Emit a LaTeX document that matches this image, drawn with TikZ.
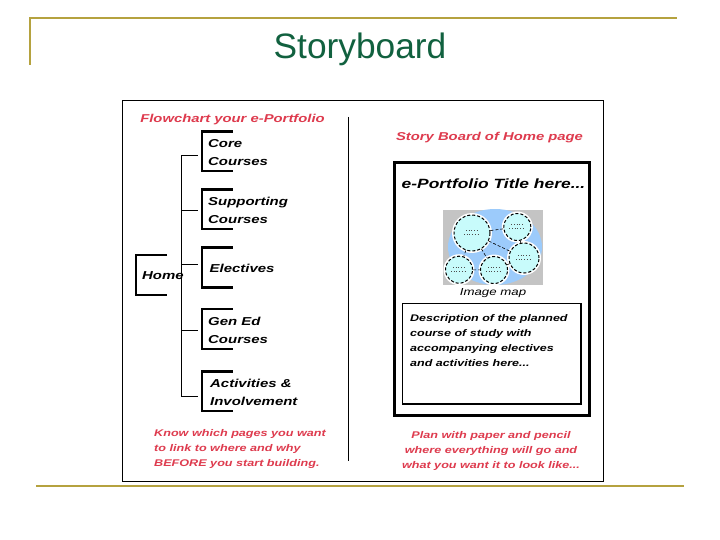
\documentclass[tikz,border=0pt]{standalone}
\usepackage{fontspec}
\setmainfont{Liberation Sans}
\newfontfamily\widefont[FakeStretch=1.3]{Liberation Sans}
\definecolor{gold}{HTML}{B5A23F}
\definecolor{titlegreen}{HTML}{11613F}
\definecolor{notered}{HTML}{DE3B4E}
\definecolor{mapgray}{HTML}{C4C4C4}
\definecolor{mapblue}{HTML}{9CCBFB}
\definecolor{mapcyan}{HTML}{C8FBFB}
\tikzset{
  rule/.style={draw=gold,line width=2pt},
  brk/.style={draw=none,minimum width=30.5pt,minimum height=39.5pt,inner sep=0pt},
  brkline/.style={line width=2.4pt,line join=miter},
  conn/.style={line width=0.8pt},
  boxtext/.style={anchor=west,inner sep=0pt,align=left,font=\widefont\bfseries\itshape\fontsize{11.5}{18.2}\selectfont},
  rednote/.style={inner sep=0pt,text=notered,font=\widefont\bfseries\itshape\fontsize{9.7}{15}\selectfont},
  redhead/.style={inner sep=0pt,text=notered,font=\widefont\bfseries\itshape\fontsize{11.4}{13}\selectfont},
  mapcircle/.style={circle,draw=black,densely dashed,line width=1pt,fill=mapcyan,inner sep=0pt},
  maphalo/.style={circle,fill=white,inner sep=0pt},
  maplink/.style={draw=black,densely dashed,line width=0.6pt},
  mapmark/.style={draw=black!70,dotted,line width=0.7pt}
}
\newcommand{\bracketof}[1]{\draw[brkline] (#1.north east) -| (#1.south west) -- (#1.south east);}
\begin{document}
\begin{tikzpicture}[x=1pt,y=-1pt]
\useasboundingbox (0,0) rectangle (720,540);
\fill[white] (0,0) rectangle (720,540);
% slide rules
\draw[rule] (30,65) -- (30,18) -- (677,18);
\draw[rule] (36,486) -- (684,486);
\node[text=titlegreen,inner sep=0pt,font=\fontsize{35.3}{40}\selectfont] (title) at (360,49.5) {Storyboard};
% sheet
\node[draw=black,line width=0.9pt,minimum width=481pt,minimum height=381pt,inner sep=0pt] (sheet) at (362.8,290.8) {};
\coordinate (divtop) at (348.3,117);
\coordinate (divbot) at (348.3,460.7);
\draw[conn] (divtop) -- (divbot);
% flowchart
\node[redhead] (flowhead) at (232.5,119.5) {Flowchart your e-Portfolio};
\node[brk] (core) at (217.5,151.3) {};
\node[brk] (supp) at (217.5,209.3) {};
\node[brk] (elec) at (217.5,267.5) {};
\node[brk] (home) at (151.7,275) {};
\node[brk] (gened) at (217.5,329) {};
\node[brk] (activ) at (217.5,391.3) {};
\bracketof{core}\bracketof{supp}\bracketof{elec}\bracketof{home}\bracketof{gened}\bracketof{activ}
\node[boxtext] (tcore) at (208,152.5) {Core\\Courses};
\node[boxtext] (tsupp) at (208,210) {Supporting\\Courses};
\node[boxtext] (telec) at (209.5,268) {Electives};
\node[boxtext] (thome) at (142,275.5) {Home};
\node[boxtext] (tgen) at (208,330) {Gen Ed\\Courses};
\node[boxtext] (tact) at (210,392.5) {Activities \&\\Involvement};
\coordinate (trunktop) at (181.7,155.7);
\coordinate (trunkbot) at (181.7,396);
\coordinate (bcore) at (197.7,155.7);
\coordinate (bsupp) at (197.7,210);
\coordinate (belec) at (197.7,264);
\coordinate (bgen) at (197.7,330);
\coordinate (bact) at (197.7,396);
\draw[conn] (bcore) -- (trunktop) -- (trunkbot) -- (bact);
\draw[conn] (bsupp) -- (bsupp -| trunktop);
\draw[conn] (belec) -- (belec -| trunktop);
\draw[conn] (bgen) -- (bgen -| trunktop);
\node[rednote,anchor=west,align=left] (leftnote) at (154,449) {Know which pages you want\\to link to where and why\\BEFORE you start building.};
% storyboard
\node[redhead] (storyhead) at (489.5,138) {Story Board of Home page};
\node[draw=black,line width=2.6pt,minimum width=194.5pt,minimum height=253pt,inner sep=0pt] (page) at (492,289.2) {};
\node[inner sep=0pt,font=\widefont\bfseries\itshape\fontsize{13.4}{15}\selectfont] (ptitle) at (493.5,184) {e-Portfolio Title here...};
% image map
\node[fill=mapgray,minimum width=100pt,minimum height=75pt,inner sep=0pt] (map) at (493,247.7) {};
\begin{scope}
\clip (map.north west) rectangle (map.south east);
\fill[mapblue] (495,247) ellipse [x radius=47pt,y radius=38pt];
\end{scope}
\node[maphalo,minimum size=40pt] (h1) at (472,233) {};
\node[maphalo,minimum size=31pt] (h2) at (517.3,227) {};
\node[maphalo,minimum size=34pt] (h3) at (524,258) {};
\node[maphalo,minimum size=31pt] (h4) at (459,269.7) {};
\node[maphalo,minimum size=31pt] (h5) at (494,270) {};
\node[mapcircle,minimum size=36pt] (m1) at (472,233) {};
\node[mapcircle,minimum size=27pt] (m2) at (517.3,227) {};
\node[mapcircle,minimum size=30pt] (m3) at (524,258) {};
\node[mapcircle,minimum size=27pt] (m4) at (459,269.7) {};
\node[mapcircle,minimum size=27pt] (m5) at (494,270) {};
\draw[maplink] (m1) -- (m2);
\draw[maplink] (m1) -- (m3);
\draw[maplink] (m1) -- (m4);
\draw[maplink] (m1) -- (m5);
\draw[maplink] (m2) -- (m3);
\draw[maplink] (m4) -- (m5);
\draw[maplink] (m5) -- (m3);
\foreach \c in {m1,m2,m3,m4,m5}{
  \draw[mapmark] ([shift={(-8pt,-1.5pt)}]\c.center) -- ([shift={(8pt,-1.5pt)}]\c.center);
  \draw[mapmark] ([shift={(-6pt,2.5pt)}]\c.center) -- ([shift={(6pt,2.5pt)}]\c.center);
}
\node[inner sep=0pt,font=\widefont\itshape\fontsize{10.2}{12}\selectfont] (maplabel) at (493,293) {Image map};
% description
\node[draw=black,line width=1.6pt,minimum width=178.4pt,minimum height=100.3pt,inner sep=0pt] (descbox) at (491.5,353.8) {};
\node[anchor=north west,inner sep=0pt,align=left,font=\widefont\bfseries\itshape\fontsize{9.6}{15}\selectfont] (desc) at (410,314) {Description of the planned\\course of study with\\accompanying electives\\and activities here...};
\node[rednote,align=center] (rightnote) at (491,451) {Plan with paper and pencil\\where everything will go and\\what you want it to look like...};
\end{tikzpicture}
\end{document}
